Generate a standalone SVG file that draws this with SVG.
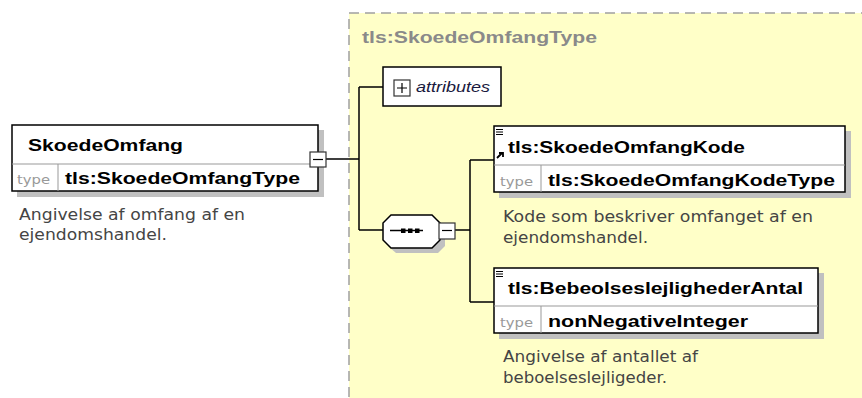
<svg xmlns="http://www.w3.org/2000/svg" width="862" height="398" viewBox="0 0 862 398">
<style>
.box{fill:#fff;stroke:#000;stroke-width:1.5}
.shadow{fill:#c0c0c0}
.name{font-family:"Liberation Sans",Arial,sans-serif;font-weight:bold;font-size:17px;fill:#000}
.tlab{font-family:"DejaVu Sans",sans-serif;font-size:13px;fill:#999}
.desc{font-family:"DejaVu Sans",sans-serif;font-size:15px;fill:#454545}
.div{stroke:#999;stroke-width:1}
.conn{fill:none;stroke:#000;stroke-width:1.5}
.pm{fill:#fff;stroke:#333;stroke-width:1.2}
</style>
<rect width="862" height="398" fill="#fff"/>
<g id="complexType">
<rect x="349" y="13" width="520" height="400" fill="#ffffc8" stroke="#a0a0a0" stroke-width="1.5" stroke-dasharray="10,6"/>
<text x="362" y="43" font-family="Liberation Sans,Arial,sans-serif" font-weight="bold" font-size="17" fill="#8a8a8a" textLength="235" lengthAdjust="spacingAndGlyphs">tls:SkoedeOmfangType</text>
</g>
<g id="connectors">
<path class="conn" d="M326 159H359M359 87V230M359 87H383M359 230H383M455 230H470M470 160V302M470 160H494M470 302H494"/>
</g>
<g id="SkoedeOmfang">
<rect class="shadow" x="17" y="130" width="307" height="67"/>
<rect class="box" x="12" y="125" width="306" height="66"/>
<line class="div" x1="12" y1="164" x2="318" y2="164"/>
<line class="div" x1="58" y1="164" x2="58" y2="191"/>
<text class="name" x="28" y="151" textLength="155" lengthAdjust="spacingAndGlyphs">SkoedeOmfang</text>
<text class="tlab" x="17" y="184" textLength="33" lengthAdjust="spacingAndGlyphs">type</text>
<text class="name" x="65" y="184" textLength="235" lengthAdjust="spacingAndGlyphs">tls:SkoedeOmfangType</text>
<rect class="pm" x="310" y="152" width="16" height="15"/>
<line x1="313" y1="159.5" x2="323" y2="159.5" stroke="#000" stroke-width="1.2"/>
<text class="desc" x="19" y="220" textLength="226" lengthAdjust="spacingAndGlyphs">Angivelse af omfang af en</text>
<text class="desc" x="19" y="240" textLength="148" lengthAdjust="spacingAndGlyphs">ejendomshandel.</text>
</g>
<g id="attributes">
<rect x="383" y="67" width="118" height="39" fill="#fff" stroke="#000" stroke-width="1.5"/>
<rect x="394" y="80" width="16" height="16" fill="#fff" stroke="#333" stroke-width="1.2"/>
<path d="M397 88H407M402 83V93" stroke="#000" stroke-width="1.2"/>
<text x="416" y="92" font-family="Liberation Sans,Arial,sans-serif" font-style="italic" font-size="14" fill="#1a1a40" textLength="74" lengthAdjust="spacingAndGlyphs">attributes</text>
</g>
<g id="sequence">
<path d="M396 220H438L445 227V246L438 253H396L388 246V227Z" fill="#c0c0c0"/>
<path d="M391 215H432L440 223V240L432 248H391L383 240V223Z" fill="#fff" stroke="#000" stroke-width="1.5"/>
<line x1="390" y1="230.5" x2="423" y2="230.5" stroke="#000" stroke-width="1.5"/>
<rect x="401" y="228.5" width="4.5" height="4.5" fill="#000"/>
<rect x="408" y="228.5" width="4.5" height="4.5" fill="#000"/>
<rect x="415" y="228.5" width="4.5" height="4.5" fill="#000"/>
<rect class="pm" x="439" y="223" width="16" height="16"/>
<line x1="442" y1="230.5" x2="452" y2="230.5" stroke="#000" stroke-width="1.2"/>
</g>
<g id="SkoedeOmfangKode">
<rect class="shadow" x="499" y="131" width="352" height="67"/>
<rect class="box" x="494" y="126" width="351" height="66"/>
<line class="div" x1="494" y1="165" x2="845" y2="165"/>
<line class="div" x1="541" y1="165" x2="541" y2="192"/>
<path d="M496 129.5h7M496 132h7M496 134.5h7" stroke="#000" stroke-width="1"/>
<path d="M497 158L502 153M499 153H503V157" stroke="#000" stroke-width="1.8" fill="none"/>
<text class="name" x="508" y="153" textLength="237" lengthAdjust="spacingAndGlyphs">tls:SkoedeOmfangKode</text>
<text class="tlab" x="500" y="186" textLength="33" lengthAdjust="spacingAndGlyphs">type</text>
<text class="name" x="548" y="186" textLength="287" lengthAdjust="spacingAndGlyphs">tls:SkoedeOmfangKodeType</text>
<text class="desc" x="503" y="222" textLength="310" lengthAdjust="spacingAndGlyphs">Kode som beskriver omfanget af en</text>
<text class="desc" x="503" y="243" textLength="145" lengthAdjust="spacingAndGlyphs">ejendomshandel.</text>
</g>
<g id="BebeolseslejlighederAntal">
<rect class="shadow" x="499" y="273" width="325" height="66"/>
<rect class="box" x="494" y="268" width="324" height="65"/>
<line class="div" x1="494" y1="306" x2="818" y2="306"/>
<line class="div" x1="541" y1="306" x2="541" y2="333"/>
<path d="M496 271.5h7M496 274h7M496 276.5h7" stroke="#000" stroke-width="1"/>
<text class="name" x="508" y="294" textLength="295" lengthAdjust="spacingAndGlyphs">tls:BebeolseslejlighederAntal</text>
<text class="tlab" x="500" y="327" textLength="33" lengthAdjust="spacingAndGlyphs">type</text>
<text class="name" x="548" y="327" textLength="200" lengthAdjust="spacingAndGlyphs">nonNegativeInteger</text>
<text class="desc" x="503" y="362" textLength="195" lengthAdjust="spacingAndGlyphs">Angivelse af antallet af</text>
<text class="desc" x="503" y="383" textLength="164" lengthAdjust="spacingAndGlyphs">beboelseslejligeder.</text>
</g>
</svg>
